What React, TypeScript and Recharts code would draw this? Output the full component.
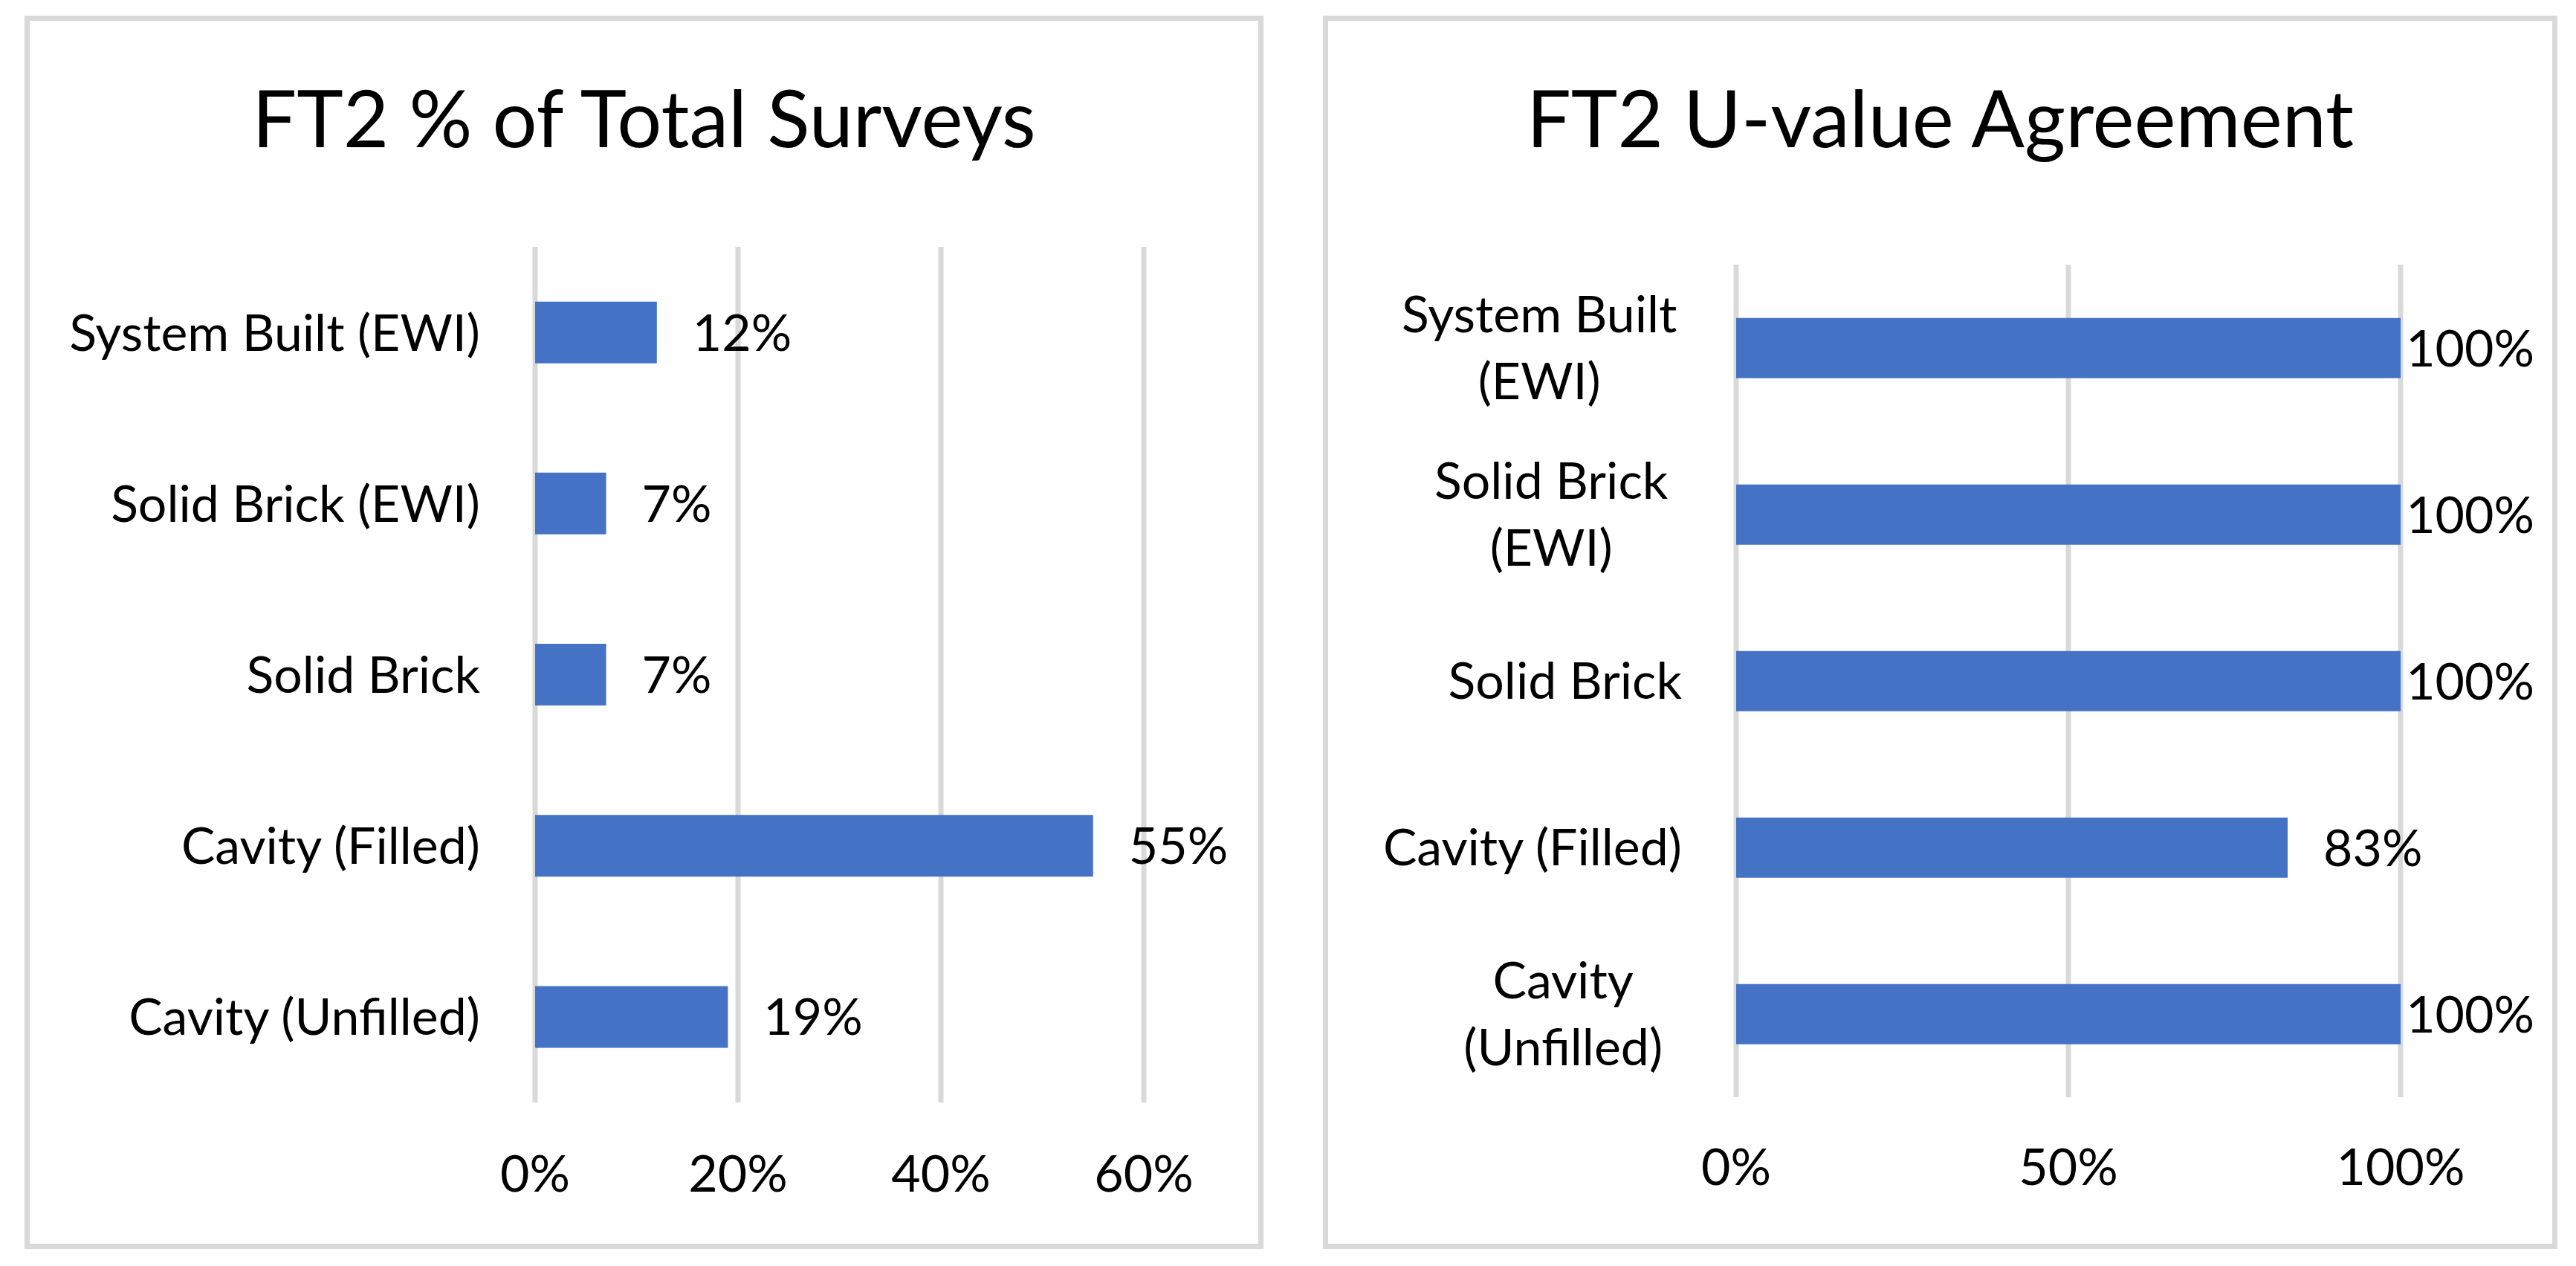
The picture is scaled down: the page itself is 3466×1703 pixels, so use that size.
import React from "react";
import { BarChart, Bar, XAxis, YAxis, CartesianGrid, LabelList } from "recharts";

// wall types, top to bottom
const categories = [
  "System Built (EWI)",
  "Solid Brick (EWI)",
  "Solid Brick",
  "Cavity (Filled)",
  "Cavity (Unfilled)",
];
const shareOfSurveys = [0.12, 0.07, 0.07, 0.55, 0.19];
const uValueAgreement = [1, 1, 1, 0.83, 1];
const shareTicks = [0, 0.2, 0.4, 0.6];
const agreementTicks = [0, 0.5, 1];

const FONT = "Lato, 'Open Sans', sans-serif";
const BLUE = "#4472C4";
const GRID = "#D9D9D9";
const LABEL_SIZE = 68;
const TITLE_SIZE = 106;
const CAP = 0.72; // cap height of Lato, in em
const BORDER = 7;

const pct = (v: number) => `${Math.round(v * 100)}%`;

function wrapLabel(text: string, maxChars: number): string[] {
  const lines: string[] = [];
  let line = "";
  for (const word of text.split(" ")) {
    const next = line ? `${line} ${word}` : word;
    if (next.length > maxChars && line) {
      lines.push(line);
      line = word;
    } else {
      line = next;
    }
  }
  if (line) lines.push(line);
  return lines;
}

interface PanelProps {
  box: { left: number; top: number; width: number; height: number };
  plot: { x0: number; x1: number; y0: number; y1: number }; // page coords
  title: string;
  values: number[];
  ticks: number[];
  wrapAt: number;
  tickDrop: number; // baseline of x tick labels below plot
  labelGap: number; // y labels end this far left of the plot
  labelLimit?: number; // page x where value labels must end
}

function Panel({ box, plot, title, values, ticks, wrapAt, tickDrop, labelGap, labelLimit }: PanelProps) {
  const ox = box.left + BORDER;
  const oy = box.top + BORDER;
  const innerW = box.width - 2 * BORDER;
  const innerH = box.height - 2 * BORDER;
  const data = categories.map((name, i) => ({ name, value: values[i] }));
  const limit = labelLimit !== undefined ? labelLimit - ox : undefined;

  const renderYTick = (props: any) => {
    const x = Number(props.x);
    const y = Number(props.y);
    const lines = wrapLabel(String(props.payload.value), wrapAt);
    const lh = 90;
    const first = y - ((lines.length - 1) * lh) / 2 + (CAP * LABEL_SIZE) / 2;
    const cx = x - labelGap;
    // multi-line labels are centred on each other, block right-aligned
    const longest = Math.max(...lines.map((l) => l.length));
    return (
      <g>
        {lines.map((l, i) => (
          <text
            key={i}
            x={lines.length > 1 ? cx - (longest * 0.47 * LABEL_SIZE) / 2 : cx}
            y={first + i * lh}
            textAnchor={lines.length > 1 ? "middle" : "end"}
            fontFamily={FONT}
            fontSize={LABEL_SIZE}
            fill="#000"
          >
            {l}
          </text>
        ))}
      </g>
    );
  };

  const renderXTick = (props: any) => (
    <text
      x={Number(props.x)}
      y={Number(props.y) + tickDrop}
      textAnchor="middle"
      fontFamily={FONT}
      fontSize={LABEL_SIZE}
      fill="#000"
    >
      {pct(props.payload.value)}
    </text>
  );

  const renderValue = (props: any) => {
    const x = Number(props.x);
    const y = Number(props.y);
    const w = Number(props.width);
    const h = Number(props.height);
    const text = pct(Number(props.value));
    let lx = x + w + 48;
    let anchor: "start" | "end" = "start";
    const est = text.length * 0.62 * LABEL_SIZE;
    if (limit !== undefined && lx + est > limit) {
      lx = limit;
      anchor = "end";
    }
    return (
      <text
        x={lx}
        y={y + h / 2 + (CAP * LABEL_SIZE) / 2}
        textAnchor={anchor}
        fontFamily={FONT}
        fontSize={LABEL_SIZE}
        fill="#000"
      >
        {text}
      </text>
    );
  };

  return (
    <div
      style={{
        position: "absolute",
        left: box.left,
        top: box.top,
        width: box.width,
        height: box.height,
        border: `${BORDER}px solid ${GRID}`,
        boxSizing: "border-box",
        background: "#fff",
      }}
    >
      <svg
        width={innerW}
        height={260}
        style={{ position: "absolute", left: 0, top: 0 }}
      >
        <text
          x={innerW / 2}
          y={198 - oy}
          textAnchor="middle"
          fontFamily={FONT}
          fontSize={TITLE_SIZE}
          fill="#000"
        >
          {title}
        </text>
      </svg>
      <div style={{ position: "absolute", left: 0, top: 0 }}>
        <BarChart
          width={innerW}
          height={innerH}
          data={data}
          layout="vertical"
          barCategoryGap="32%"
          margin={{ top: plot.y0 - oy, right: ox + innerW - plot.x1, bottom: 0, left: 0 }}
        >
          <CartesianGrid horizontal={false} stroke={GRID} strokeWidth={7} />
          <XAxis
            type="number"
            domain={[0, ticks[ticks.length - 1]]}
            ticks={ticks}
            height={oy + innerH - plot.y1}
            axisLine={false}
            tickLine={false}
            tickSize={0}
            tickMargin={0}
            tick={renderXTick}
          />
          <YAxis
            type="category"
            dataKey="name"
            width={plot.x0 - ox}
            axisLine={false}
            tickLine={false}
            tickSize={0}
            tickMargin={0}
            interval={0}
            tick={renderYTick}
          />
          <Bar dataKey="value" fill={BLUE} isAnimationActive={false}>
            <LabelList dataKey="value" content={renderValue} />
          </Bar>
        </BarChart>
      </div>
    </div>
  );
}

export default function App() {
  return (
    <div
      style={{
        position: "absolute",
        left: 0,
        top: 0,
        width: 3466,
        height: 1703,
        background: "#fff",
      }}
    >
      <Panel
        box={{ left: 33, top: 21, width: 1667, height: 1659 }}
        plot={{ x0: 720, x1: 1539, y0: 332, y1: 1483 }}
        title="FT2 % of Total Surveys"
        values={shareOfSurveys}
        ticks={shareTicks}
        wrapAt={Infinity}
        tickDrop={120}
        labelGap={74}
      />
      <Panel
        box={{ left: 1780, top: 21, width: 1661, height: 1659 }}
        plot={{ x0: 2336, x1: 3230, y0: 356, y1: 1476 }}
        title="FT2 U-value Agreement"
        values={uValueAgreement}
        ticks={agreementTicks}
        wrapAt={15}
        tickDrop={118}
        labelGap={73}
        labelLimit={3410}
      />
    </div>
  );
}
